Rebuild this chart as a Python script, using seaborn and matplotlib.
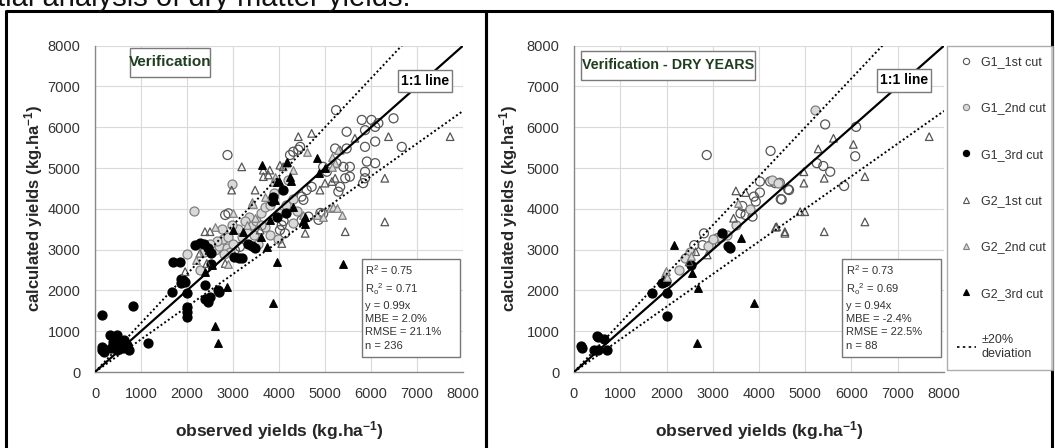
import pandas as pd
import matplotlib
matplotlib.use("Agg")
import matplotlib.pyplot as plt
import seaborn as sns
from matplotlib.lines import Line2D
from matplotlib.patches import Rectangle

# ---------------- data (kg/ha) ----------------
# panel A : Verification (all years)
a_g1_1st_x = [2880, 5240, 5800, 6010, 6160, 6090, 6490, 5470, 5870, 6090, 5470, 5870, 5220, 5540, 5400,
              5250, 5870, 6090, 5910, 5540, 5440, 5830, 5870, 5290, 5330, 4960, 5040, 4310, 4460, 4420,
              4240, 6670, 4860, 4900, 4960, 4600, 4490, 4530, 4640, 4490, 4020, 4060, 4130, 2830, 2900,
              3040, 3150, 4100, 4710]
a_g1_1st_y = [5320, 6420, 6180, 6180, 6100, 6010, 6220, 5890, 5930, 5650, 5480, 5520, 5480, 5030, 5030,
              5120, 4910, 5120, 5160, 4790, 4750, 4630, 4750, 4420, 4540, 5030, 4910, 5400, 5520, 5450,
              5320, 5520, 3730, 3900, 3880, 4460, 4300, 4220, 3810, 3720, 3480, 3600, 3400, 3850, 3890,
              2990, 3070, 3700, 4540]
a_g1_2nd_x = [2970, 2160, 1990, 2280, 2600, 2700, 2780, 2870, 2930, 2800, 2650, 2900, 3000, 3200, 3300,
              3400, 3500, 3350, 3600, 3700, 3800, 3450, 3550, 3700, 4000, 4150, 4300, 3100, 2500, 3900,
              4200, 2980, 3250, 2380, 3800, 3980, 4300, 3600, 4400, 2750]
a_g1_2nd_y = [4620, 3950, 2890, 2500, 3000, 3100, 3250, 3050, 2950, 2900, 3200, 3300, 3150, 3300, 3450,
              3600, 3700, 3800, 3900, 4050, 4100, 3350, 3150, 3550, 3900, 4100, 4250, 3500, 3150, 4400,
              4700, 3600, 3700, 2950, 3350, 3250, 3650, 3600, 3950, 3500]
a_g1_3rd_x = [150, 830, 150, 150, 330, 470, 400, 440, 470, 620, 690, 730, 1160, 200, 520, 350, 600,
              1700, 1850, 1670, 1870, 1920, 1960, 1880, 1990, 2000, 2010, 2000, 2170, 2280, 2370, 2460,
              2520, 2390, 2390, 2500, 2460, 2680, 2700, 3120, 3030, 3190, 3330, 3410, 3480, 3850, 3880,
              4090, 3950, 4150, 2520]
a_g1_3rd_y = [1400, 1620, 620, 540, 900, 900, 740, 620, 540, 780, 660, 540, 700, 500, 700, 580, 600,
              2700, 2700, 1950, 2180, 2250, 2200, 2290, 1930, 1600, 1480, 1350, 3110, 3170, 3150, 3030,
              2920, 2130, 1800, 1840, 1720, 2000, 1950, 2790, 2830, 2790, 3150, 3090, 3050, 4200, 4280,
              4460, 3800, 3900, 2660]
a_g2_1st_x = [4420, 4710, 5650, 6380, 7720, 5330, 4020, 4090, 4170, 3800, 3660, 6300, 4890, 6300, 5440,
              4570, 2390, 2500, 3190, 3660, 3480, 1960, 2430, 2830, 2280, 5000, 5150, 5220, 3590, 4060,
              2970, 3770]
a_g2_1st_y = [5770, 5850, 5730, 5770, 5770, 5440, 5070, 5030, 5120, 4950, 4790, 4750, 4460, 3680, 3440,
              3400, 3440, 3440, 5030, 4950, 4460, 2460, 2660, 2660, 2910, 4630, 4670, 4750, 3480, 3150,
              4460, 4830]
a_g2_2nd_x = [5150, 5220, 5150, 4310, 3910, 3880, 5110, 5180, 5250, 5360, 4820, 4960, 4530, 3410, 3440,
              3480, 2900, 3300, 4600, 5290, 3000, 2600, 2200, 3700]
a_g2_2nd_y = [5280, 5120, 5030, 4950, 4790, 4670, 4010, 4050, 4010, 3850, 3850, 3800, 3850, 4180, 4130,
              3770, 2660, 3600, 5400, 5440, 3900, 3550, 2750, 4300]
a_g2_3rd_x = [4170, 4820, 4240, 3990, 4310, 4570, 4530, 3950, 5400, 3880, 2610, 2670, 2860, 2400, 3730,
              3610, 3950, 3220, 3800, 3910, 3620, 4270, 4860, 5000, 4570, 2540, 3000]
a_g2_3rd_y = [5150, 5240, 4770, 4690, 4050, 3810, 3710, 2700, 2660, 1680, 1120, 720, 2090, 2450, 3070,
              3300, 4660, 3440, 3730, 4220, 5070, 4690, 4880, 4990, 3640, 2620, 3480]

# panel B : Verification - dry years
b_g1_1st_x = [2870, 4250, 4020, 4650, 4470, 3890, 3930, 3640, 3710, 3860, 3600, 2810, 2600, 2780, 2960,
              3100, 5430, 6100, 6080, 5540, 5390, 5250, 5840, 4490, 4630, 4240, 4350, 4450, 4020]
b_g1_1st_y = [5320, 5420, 4670, 4460, 4240, 4300, 4180, 4070, 3850, 3810, 3890, 3400, 3110, 3110, 3110,
              3280, 6070, 6010, 5290, 4910, 5050, 5120, 4560, 4230, 4480, 4670, 4630, 4640, 4400]
b_g1_2nd_x = [2270, 4290, 4400, 5210, 3170, 2500, 2900, 3000, 3300, 3500, 2400, 3800]
b_g1_2nd_y = [2500, 4710, 4640, 6420, 3320, 2950, 3100, 3250, 3350, 3600, 2800, 4000]
b_g1_3rd_x = [150, 180, 490, 510, 650, 430, 510, 720, 1690, 1910, 1950, 1980, 2000, 2020, 2520, 3210,
              3320, 3370]
b_g1_3rd_y = [640, 600, 880, 870, 800, 540, 540, 540, 1940, 2170, 2200, 2220, 1930, 1370, 2620, 3400,
              3090, 3030]
b_g2_1st_x = [7680, 5610, 5280, 6040, 4970, 4970, 5410, 6290, 4890, 4990, 6290, 4560, 4380, 5410, 3500,
              3710, 3450, 4360, 4560, 2490, 2630, 2880]
b_g2_1st_y = [5770, 5730, 5470, 5580, 4630, 4910, 4750, 4790, 3930, 3930, 3680, 3440, 3560, 3440, 4440,
              4400, 3770, 3550, 3400, 2700, 2950, 2870]
b_g2_2nd_x = [1960, 2000, 1980, 2520, 3550]
b_g2_2nd_y = [2420, 2340, 2480, 2850, 4150]
b_g2_3rd_x = [3600, 2160, 2560, 2680, 3890, 2670]
b_g2_3rd_y = [3280, 3110, 2420, 2050, 1680, 700]

series_labels = ["G1_1st cut", "G1_2nd cut", "G1_3rd cut", "G2_1st cut", "G2_2nd cut", "G2_3rd cut"]
panel_titles = ["Verification", "Verification - DRY YEARS"]
stats_a = ["R$^2$ = 0.75", "R$_o$$^2$ = 0.71", "y = 0.99x", "MBE = 2.0%", "RMSE = 21.1%", "n = 236"]
stats_b = ["R$^2$ = 0.73", "R$_o$$^2$ = 0.69", "y = 0.94x", "MBE = -2.4%", "RMSE = 22.5%", "n = 88"]
ref_x = [0, 8000]
dev = 0.2

# ---------------- long tables ----------------
def make_table(pairs):
    frames = []
    for lab, (xs, ys) in zip(series_labels, pairs):
        frames.append(pd.DataFrame({"observed": xs, "calculated": ys, "series": lab}))
    return pd.concat(frames, ignore_index=True)

df_a = make_table([(a_g1_1st_x, a_g1_1st_y), (a_g1_2nd_x, a_g1_2nd_y), (a_g1_3rd_x, a_g1_3rd_y),
                   (a_g2_1st_x, a_g2_1st_y), (a_g2_2nd_x, a_g2_2nd_y), (a_g2_3rd_x, a_g2_3rd_y)])
df_b = make_table([(b_g1_1st_x, b_g1_1st_y), (b_g1_2nd_x, b_g1_2nd_y), (b_g1_3rd_x, b_g1_3rd_y),
                   (b_g2_1st_x, b_g2_1st_y), (b_g2_2nd_x, b_g2_2nd_y), (b_g2_3rd_x, b_g2_3rd_y)])

ref = pd.DataFrame({"x": ref_x})
ref["one"] = ref["x"]
ref["up"] = ref["x"] * (1 + dev)
ref["lo"] = ref["x"] * (1 - dev)

# marker style per series
styles = {
    "G1_1st cut": dict(marker="o", s=42, fc="none", ec="#555555"),
    "G1_2nd cut": dict(marker="o", s=42, fc="#d9d9d9", ec="#808080"),
    "G1_3rd cut": dict(marker="o", s=42, fc="black", ec="black"),
    "G2_1st cut": dict(marker="^", s=30, fc="none", ec="#555555"),
    "G2_2nd cut": dict(marker="^", s=30, fc="#d9d9d9", ec="#808080"),
    "G2_3rd cut": dict(marker="^", s=30, fc="black", ec="black"),
}

sns.set_style("white")
plt.rcParams['font.family'] = ['Liberation Sans', 'DejaVu Sans']
plt.rcParams['mathtext.default'] = 'regular'

fig = plt.figure(figsize=(10.55, 4.48), dpi=100)

W, H = 1055, 448
AX_TOP, AX_BOT = 45.7, 372
ax_a = fig.add_axes([95 / W, 1 - AX_BOT / H, 368 / W, (AX_BOT - AX_TOP) / H])
ax_b = fig.add_axes([574 / W, 1 - AX_BOT / H, 370 / W, (AX_BOT - AX_TOP) / H])


def pixel_box(x0, x1, y0, y1, text, size, color):
    """Framed label placed with figure pixel coordinates (top-left origin)."""
    fig.add_artist(Rectangle((x0 / W, 1 - y1 / H), (x1 - x0) / W, (y1 - y0) / H,
                             transform=fig.transFigure, fc="white", ec="#7a7a7a", lw=1, zorder=5))
    fig.text((x0 + x1) / 2 / W, 1 - (y0 + y1) / 2 / H, text, ha="center", va="center",
             fontsize=size, fontweight="bold", color=color, zorder=6)


for ax, df, stats in [(ax_a, df_a, stats_a), (ax_b, df_b, stats_b)]:
    for lab in series_labels:
        st = styles[lab]
        sns.scatterplot(data=df[df["series"] == lab], x="observed", y="calculated", ax=ax,
                        marker=st["marker"], s=st["s"], facecolor=st["fc"], edgecolor=st["ec"],
                        linewidth=0.9, legend=False, zorder=3)
    sns.lineplot(data=ref, x="x", y="one", ax=ax, color="black", lw=1.6, zorder=4)
    sns.lineplot(data=ref, x="x", y="up", ax=ax, color="black", lw=1.4, ls=(0, (1, 1.3)), zorder=4)
    sns.lineplot(data=ref, x="x", y="lo", ax=ax, color="black", lw=1.4, ls=(0, (1, 1.3)), zorder=4)

    ax.set_xlim(0, 8000)
    ax.set_ylim(0, 8000)
    ax.set_xticks(range(0, 8001, 1000))
    ax.set_yticks(range(0, 8001, 1000))
    ax.set_xticks(range(0, 8001, 200), minor=True)
    ax.set_yticks(range(0, 8001, 200), minor=True)
    ax.grid(True, which="major", color="#dadada", lw=0.8)
    ax.set_axisbelow(True)
    for side in ["top", "right"]:
        ax.spines[side].set_visible(False)
    for side in ["left", "bottom"]:
        ax.spines[side].set_color("#888888")
        ax.spines[side].set_linewidth(1.0)
    ax.tick_params(which="major", direction="inout", length=7, width=0.9, color="#777777",
                   labelsize=10.5, labelcolor="#333333", pad=7)
    ax.tick_params(which="minor", direction="inout", length=4, width=0.7, color="#888888")

    ax.set_xlabel("observed yields (kg.ha$^{-1}$)", fontsize=12.5, fontweight="bold")
    ax.set_ylabel("calculated yields (kg.ha$^{-1}$)", fontsize=12, fontweight="bold")
    ax.xaxis.set_label_coords(0.5, -0.145)

    # statistics box
    ax.add_patch(Rectangle((0.725, 0.045), 0.266, 0.300, transform=ax.transAxes,
                           fc="white", ec="#777777", lw=1, zorder=5))
    ax.text(0.735, 0.334, "\n".join(stats), transform=ax.transAxes, ha="left", va="top",
            fontsize=8, color="#333333", linespacing=1.42, zorder=6)

ax_a.yaxis.set_label_coords(-0.136, 0.5)
ax_b.yaxis.set_label_coords(-0.146, 0.5)

pixel_box(130, 210, 48, 77, panel_titles[0], 11, "#1f3d1f")
pixel_box(581, 755, 50.7, 80, panel_titles[1], 10.3, "#1f3d1f")
pixel_box(397.7, 451.7, 70, 91.7, "1:1 line", 10, "black")
pixel_box(876.7, 930.7, 69, 91.7, "1:1 line", 10, "black")

# legend
handles = []
for lab in series_labels:
    st = styles[lab]
    handles.append(Line2D([], [], ls="none", marker=st["marker"], markersize=4.5,
                          markerfacecolor=st["fc"], markeredgecolor=st["ec"], markeredgewidth=0.8))
handles.append(Line2D([], [], color="black", lw=1.2, ls=(0, (1.5, 2))))
leg = fig.legend(handles, series_labels + ["±20%\ndeviation"], loc="upper left",
                 bbox_to_anchor=(947 / W, 0, 106 / W, 1 - 46 / H), mode="expand",
                 frameon=True, fontsize=9, labelspacing=2.75, handlelength=1.5,
                 handletextpad=0.45, borderpad=0.8, borderaxespad=0, fancybox=False)
leg.get_frame().set_edgecolor("#999999")
leg.get_frame().set_linewidth(1.0)
for t in leg.get_texts():
    t.set_color("#333333")

# panel frames (open at the bottom, as cropped in the source)
for x0, x1 in [(6 / W, 486 / W), (486 / W, 1052 / W)]:
    fig.add_artist(Line2D([x0, x0, x1, x1], [-0.05, 1 - 11 / H, 1 - 11 / H, -0.05],
                          transform=fig.transFigure, color="black", lw=2.2))

# cropped caption from the page
fig.text(-0.003, 1 - 6.5 / H, "tial analysis of dry matter yields.", ha="left", va="baseline",
         fontsize=21, color="#111111")

fig.savefig("out.png", dpi=100)
